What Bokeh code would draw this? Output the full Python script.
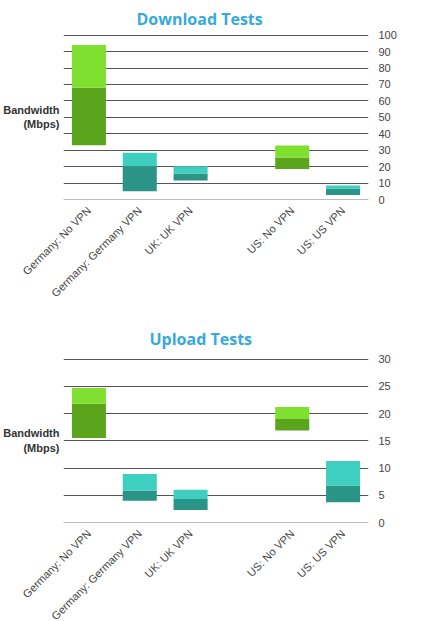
import math
from bokeh.plotting import figure
from bokeh.layouts import column
from bokeh.models import FactorRange, Range1d, LinearAxis, FixedTicker
from bokeh.embed import file_html
from bokeh.resources import INLINE

categories = ["Germany: No VPN", "Germany: Germany VPN", "UK: UK VPN", " ", "US: No VPN", "US: US VPN"]
bar_cats = ["Germany: No VPN", "Germany: Germany VPN", "UK: UK VPN", "US: No VPN", "US: US VPN"]

dl_min = [33, 5, 11.5, 18.5, 2.7]
dl_mid = [68, 20.3, 15.8, 25.5, 6.7]
dl_max = [94, 28.4, 20.2, 32.8, 8.5]

ul_min = [15.5, 4.0, 2.3, 16.9, 3.7]
ul_mid = [21.8, 5.9, 4.3, 19.0, 6.8]
ul_max = [24.7, 8.9, 6.0, 21.2, 11.3]

light = ["#80e030", "#3fcfc1", "#3fcfc1", "#80e030", "#3fcfc1"]
dark = ["#5ba51d", "#2a9487", "#2a9487", "#5ba51d", "#2a9487"]

dl_ticks = [0, 10, 20, 30, 40, 50, 60, 70, 80, 90, 100]
ul_ticks = [0, 5, 10, 15, 20, 25, 30]


def make(title, ymax, ticks, mn, md, mx, height, top, bottom, title_offset, standoff):
    p = figure(x_range=FactorRange(*categories), y_range=Range1d(0, ymax * 1.004),
               width=414, height=height, output_backend="svg", toolbar_location=None,
               min_border_left=54, min_border_right=46, min_border_top=top,
               min_border_bottom=bottom, y_axis_location=None)
    p.outline_line_color = None
    p.title.text = title
    p.title.text_font = "Open Sans"
    p.title.text_font_size = "16px"
    p.title.text_font_style = "bold"
    p.title.text_color = "#38a9d9"
    p.title.align = "left"
    p.title.offset = title_offset
    p.title.standoff = standoff

    p.vbar(x=bar_cats, bottom=mn, top=md, width=0.67, color=dark, line_color=None)
    p.vbar(x=bar_cats, bottom=md, top=mx, width=0.67, color=light, line_color=None)

    p.xgrid.grid_line_color = None
    p.ygrid.ticker = FixedTicker(ticks=ticks[1:])
    p.ygrid.grid_line_color = "#555555"
    p.ygrid.grid_line_width = 1
    p.ygrid.level = "underlay"

    ax = LinearAxis(ticker=FixedTicker(ticks=ticks))
    ax.axis_line_color = None
    ax.major_tick_line_color = None
    ax.minor_tick_line_color = None
    ax.major_tick_out = 0
    ax.major_label_standoff = 10
    ax.major_label_text_font = "Liberation Sans"
    ax.major_label_text_font_size = "11px"
    ax.major_label_text_color = "#444444"
    p.add_layout(ax, "right")

    la = LinearAxis(ticker=FixedTicker(ticks=[]))
    la.axis_line_color = None
    la.major_tick_line_color = None
    la.minor_tick_line_color = None
    la.major_label_text_font_size = "0px"
    la.axis_label = "Bandwidth\n(Mbps)"
    la.axis_label_orientation = "horizontal"
    la.axis_label_text_font = "Liberation Sans"
    la.axis_label_text_font_size = "11px"
    la.axis_label_text_font_style = "bold"
    la.axis_label_text_color = "#333333"
    la.axis_label_text_align = "center"
    la.axis_label_standoff = 4
    p.add_layout(la, "left")

    xa = p.xaxis[0]
    xa.axis_line_color = "#bbbbbb"
    xa.major_tick_line_color = None
    xa.minor_tick_line_color = None
    xa.major_tick_out = 0
    xa.major_label_orientation = math.pi / 4
    xa.major_label_text_font = "Liberation Sans"
    xa.major_label_text_font_size = "11px"
    xa.major_label_text_color = "#444444"
    xa.major_label_standoff = 9
    return p


p1 = make("Download Tests", 100, dl_ticks, dl_min, dl_mid, dl_max, 317, 0, 118, 73, 10)
p2 = make("Upload Tests", 30, ul_ticks, ul_min, ul_mid, ul_max, 320, 41, 115, 86, 17)

layout = column(p1, p2, spacing=0)
open("out.html", "w").write(file_html(layout, INLINE))
